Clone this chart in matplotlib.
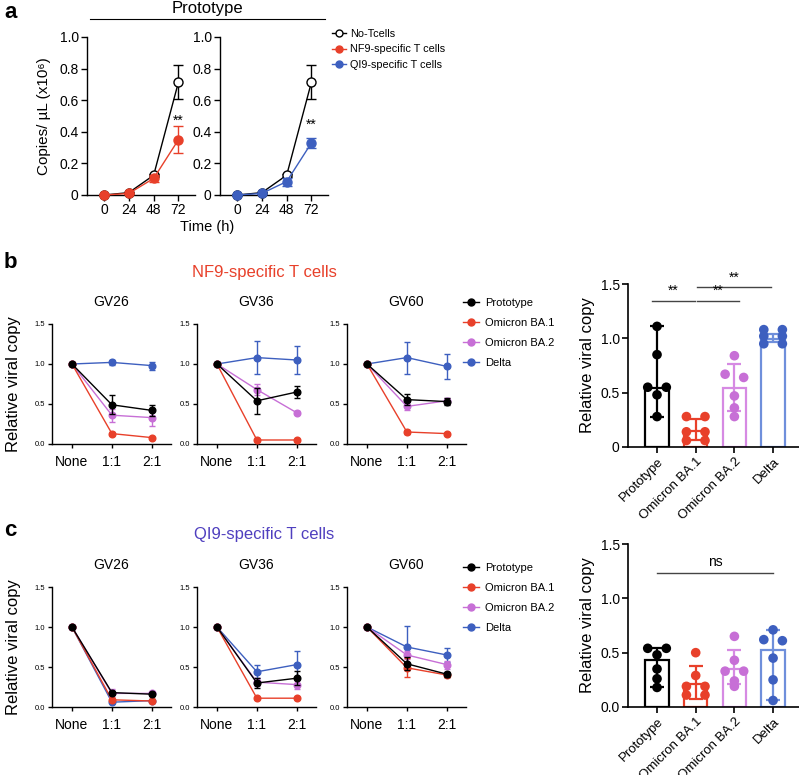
import numpy as np
import matplotlib
matplotlib.use('Agg')
import matplotlib.pyplot as plt
from matplotlib.lines import Line2D

W, H = 799, 775
plt.rcParams['font.family'] = ['Liberation Sans', 'DejaVu Sans']

RED = '#E8402A'
BLUE = '#3D5FBF'
VIOLET = '#C76FD6'
BLACK = '#000000'
QI9_COL = '#4F3FBF'

# ---- panel a: viral copies over time ----
a_time = [0, 24, 48, 72]
a_no_t = [0, 0.015, 0.125, 0.715]
a_no_t_sd = [0, 0.005, 0.01, 0.105]
a_nf9 = [0, 0.01, 0.105, 0.35]
a_nf9_sd = [0, 0.005, 0.02, 0.085]
a_qi9 = [0, 0.01, 0.085, 0.33]
a_qi9_sd = [0, 0.005, 0.025, 0.03]

# ---- panels b/c: titration curves ----
ratios = ['None', '1:1', '2:1']
donors = ['GV26', 'GV36', 'GV60']
variants = ['Prototype', 'Omicron BA.1', 'Omicron BA.2', 'Delta']
var_colors = [BLACK, RED, VIOLET, BLUE]

nf9_proto = [[1, 0.49, 0.42], [1, 0.54, 0.65], [1, 0.555, 0.53]]
nf9_proto_sd = [[0, 0.12, 0.07], [0, 0.16, 0.07], [0, 0.07, 0.04]]
nf9_ba1 = [[1, 0.13, 0.08], [1, 0.05, 0.05], [1, 0.15, 0.13]]
nf9_ba1_sd = [[0, 0.02, 0.01], [0, 0.01, 0.01], [0, 0.03, 0.01]]
nf9_ba2 = [[1, 0.36, 0.33], [1, 0.68, 0.39], [1, 0.47, 0.54]]
nf9_ba2_sd = [[0, 0.08, 0.1], [0, 0.07, 0.02], [0, 0.05, 0.04]]
nf9_delta = [[1, 1.02, 0.98], [1, 1.08, 1.05], [1, 1.08, 0.97]]
nf9_delta_sd = [[0, 0.03, 0.05], [0, 0.21, 0.17], [0, 0.2, 0.16]]

qi9_proto = [[1, 0.18, 0.16], [1, 0.30, 0.36], [1, 0.54, 0.41]]
qi9_proto_sd = [[0, 0.02, 0.02], [0, 0.06, 0.09], [0, 0.08, 0.03]]
qi9_ba1 = [[1, 0.09, 0.075], [1, 0.11, 0.11], [1, 0.49, 0.40]]
qi9_ba1_sd = [[0, 0.02, 0.01], [0, 0.01, 0.01], [0, 0.12, 0.02]]
qi9_ba2 = [[1, 0.17, 0.17], [1, 0.31, 0.28], [1, 0.65, 0.53]]
qi9_ba2_sd = [[0, 0.05, 0.02], [0, 0.05, 0.06], [0, 0.05, 0.05]]
qi9_delta = [[1, 0.06, 0.08], [1, 0.44, 0.53], [1, 0.75, 0.65]]
qi9_delta_sd = [[0, 0.01, 0.01], [0, 0.08, 0.17], [0, 0.26, 0.09]]

# ---- bar charts ----
nf9_pts = [[1.11, 0.85, 0.55, 0.55, 0.48, 0.28],
           [0.28, 0.28, 0.14, 0.14, 0.06, 0.06],
           [0.84, 0.67, 0.64, 0.47, 0.36, 0.28],
           [1.08, 1.08, 1.02, 1.02, 0.95, 0.95]]
nf9_bar = [0.54, 0.15, 0.54, 0.995]
nf9_lo = [0.28, 0.06, 0.33, 0.97]
nf9_hi = [1.11, 0.26, 0.76, 1.04]

qi9_pts = [[0.54, 0.54, 0.48, 0.35, 0.26, 0.18],
           [0.50, 0.29, 0.19, 0.19, 0.11, 0.11],
           [0.65, 0.43, 0.33, 0.33, 0.24, 0.19],
           [0.71, 0.62, 0.61, 0.45, 0.25, 0.06]]
qi9_bar = [0.43, 0.215, 0.35, 0.52]
qi9_lo = [0.18, 0.077, 0.21, 0.06]
qi9_hi = [0.54, 0.375, 0.52, 0.71]

bar_edge = [BLACK, RED, '#D68AE3', '#6F8FDB']

fig = plt.figure(figsize=(W / 100, H / 100), dpi=100)


def ax_px(l, t, w, h):
    return fig.add_axes([l / W, 1 - (t + h) / H, w / W, h / H])


def style(ax, lw=1.0, tl=4):
    for s in ['top', 'right']:
        ax.spines[s].set_visible(False)
    for s in ['left', 'bottom']:
        ax.spines[s].set_linewidth(lw)
    ax.tick_params(direction='out', width=lw, length=tl, color='black', pad=2)


def fx(x):
    return x / W


def fy(y):
    return 1 - y / H


def row_offsets(vals, dx, thr=0.035):
    # prism-like rows: equal-ish values spread side by side
    order = np.argsort(vals)[::-1]
    offs = np.zeros(len(vals))
    rows = []
    for i in order:
        if rows and abs(vals[rows[-1][0]] - vals[i]) <= thr:
            rows[-1].append(i)
        else:
            rows.append([i])
    for r in rows:
        n = len(r)
        if n == 1:
            pos = [0.0]
        elif n == 2:
            pos = [-dx, dx]
        else:
            pos = list(np.linspace(-dx * (n - 1) / 2, dx * (n - 1) / 2, n))
        for j, i in enumerate(r):
            offs[i] = pos[j]
    return offs


# ================= panel a =================
fig.text(fx(4), fy(13), 'a', fontsize=16, fontweight='bold', va='center')
fig.text(fx(207), fy(8), 'Prototype', fontsize=12, ha='center', va='center')
fig.add_artist(Line2D([fx(90), fx(325)], [fy(19), fy(19)], color='black', lw=0.8))

for i, (vals, sd, col) in enumerate([(a_nf9, a_nf9_sd, RED), (a_qi9, a_qi9_sd, BLUE)]):
    ax = ax_px([87, 220][i], 37, 108, 158)
    style(ax)
    ax.errorbar(a_time, a_no_t, yerr=a_no_t_sd, color='black', marker='o', mfc='white',
                mec='black', ms=6.5, lw=1, capsize=3.5, elinewidth=1, clip_on=False, zorder=3)
    ax.errorbar(a_time, vals, yerr=sd, color=col, marker='o', ms=6.5, lw=1, capsize=3.5,
                elinewidth=1, clip_on=False, zorder=4)
    ax.set_xlim(-16.5, 88)
    ax.set_ylim(0, 1.0)
    ax.set_xticks(a_time)
    ax.set_yticks([0, 0.2, 0.4, 0.6, 0.8, 1.0])
    ax.set_yticklabels(['0', '0.2', '0.4', '0.6', '0.8', '1.0'])
    ax.tick_params(labelsize=10)
    ax.text(72, [0.47, 0.445][i], '**', ha='center', va='center', fontsize=10)
    if i == 0:
        ax.set_ylabel('Copies/ \u00b5L (x10\u2076)', fontsize=11, labelpad=6)

fig.text(fx(207), fy(227), 'Time (h)', fontsize=10.5, ha='center', va='center')

a_handles = [Line2D([], [], color='black', marker='o', mfc='white', mec='black', ms=5, lw=1),
             Line2D([], [], color=RED, marker='o', ms=5, lw=1),
             Line2D([], [], color=BLUE, marker='o', ms=5, lw=1)]
fig.legend(a_handles, ['No-Tcells', 'NF9-specific T cells', 'QI9-specific T cells'],
           loc='upper left', bbox_to_anchor=(fx(332), fy(29)), frameon=False, fontsize=7.8,
           handlelength=1.3, handletextpad=0.4, labelspacing=0.5, borderaxespad=0, borderpad=0)


# ================= panels b / c =================
def titration(top, title, title_col, letter, letter_y, sets, leg_top):
    fig.text(fx(4), fy(letter_y), letter, fontsize=16, fontweight='bold', va='center')
    fig.text(fx(264), fy(top - 52), title, fontsize=12, color=title_col, ha='center', va='center')
    for d, left in enumerate([52, 197, 347]):
        ax = ax_px(left, top, 119, 120)
        style(ax, lw=1.0, tl=3)
        x = np.arange(len(ratios))
        for k in [3, 2, 1, 0]:
            mean, sd = sets[k]
            ax.errorbar(x, mean[d], yerr=sd[d], color=var_colors[k], marker='o', ms=4.8,
                        lw=1, elinewidth=1, capsize=2.5, clip_on=False, zorder=3 + (3 - k))
        ax.set_xlim(-0.5, 2.48)
        ax.set_ylim(0, 1.5)
        ax.set_xticks(x)
        ax.set_xticklabels(ratios, fontsize=10)
        ax.set_yticks([0, 0.5, 1.0, 1.5])
        ax.set_yticklabels(['0.0', '0.5', '1.0', '1.5'], fontsize=5.5)
        ax.tick_params(axis='x', pad=5)
        ax.text(0.5, 1 + 22 / 120, donors[d], transform=ax.transAxes, ha='center',
                va='center', fontsize=10)
        if d == 0:
            ax.set_ylabel('Relative viral copy', fontsize=12, labelpad=10)
    hs = [Line2D([], [], color=c, marker='o', ms=5, lw=1) for c in var_colors]
    fig.legend(hs, variants, loc='upper left', bbox_to_anchor=(fx(463), fy(leg_top)),
               frameon=False, fontsize=8, handlelength=1.4, handletextpad=0.6,
               labelspacing=0.9, borderaxespad=0, borderpad=0)


def bar_panel(top, pts, bar, lo, hi, zero_label):
    ax = ax_px(628, top, 171, 163)
    style(ax, lw=1.2, tl=4)
    x = np.arange(len(variants))
    ax.bar(x, bar, width=0.6, facecolor='none', edgecolor=bar_edge, lw=1.6, zorder=2)
    for i in range(len(variants)):
        ax.errorbar(x[i], bar[i], yerr=[[bar[i] - lo[i]], [hi[i] - bar[i]]], fmt='none',
                    ecolor=bar_edge[i], elinewidth=1.6, capsize=5, capthick=1.6, zorder=3)
        offs = row_offsets(np.array(pts[i]), 0.24)
        ax.scatter(x[i] + offs, pts[i], s=48, color=var_colors[i], zorder=4, clip_on=False,
                   edgecolors='none')
    ax.set_xlim(-0.75, 3.67)
    ax.set_ylim(0, 1.5)
    ax.set_xticks(x)
    ax.set_xticklabels(variants, rotation=45, ha='right', rotation_mode='anchor', fontsize=9.5)
    ax.set_yticks([0, 0.5, 1.0, 1.5])
    ax.set_yticklabels([zero_label, '0.5', '1.0', '1.5'], fontsize=10)
    ax.set_ylabel('Relative viral copy', fontsize=12, labelpad=4)
    return ax


titration(324, 'NF9-specific T cells', RED, 'b', 262,
          [(nf9_proto, nf9_proto_sd), (nf9_ba1, nf9_ba1_sd),
           (nf9_ba2, nf9_ba2_sd), (nf9_delta, nf9_delta_sd)], 298)
axb = bar_panel(284, nf9_pts, nf9_bar, nf9_lo, nf9_hi, '0')
for x0, x1, y in [(-0.13, 0.98, 1.345), (1.03, 2.12, 1.345), (1.03, 2.95, 1.47)]:
    axb.plot([x0, x1], [y, y], color='#444444', lw=1, clip_on=False)
    axb.text((x0 + x1) / 2, y + 0.025, '**', ha='center', va='bottom', fontsize=10)

titration(587, 'QI9-specific T cells', QI9_COL, 'c', 530,
          [(qi9_proto, qi9_proto_sd), (qi9_ba1, qi9_ba1_sd),
           (qi9_ba2, qi9_ba2_sd), (qi9_delta, qi9_delta_sd)], 563)
axc = bar_panel(544, qi9_pts, qi9_bar, qi9_lo, qi9_hi, '0.0')
axc.plot([0, 3.0], [1.236, 1.236], color='#444444', lw=1)
axc.text(1.5, 1.27, 'ns', ha='center', va='bottom', fontsize=10)

fig.savefig('out.png', dpi=100)
